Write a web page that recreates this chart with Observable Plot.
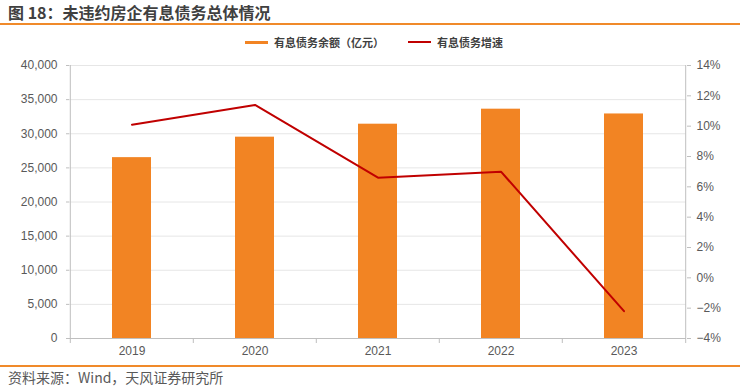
<!DOCTYPE html>
<html>
<head>
<meta charset="utf-8">
<script src="https://cdn.jsdelivr.net/npm/d3@7"></script>
<script src="https://cdn.jsdelivr.net/npm/@observablehq/plot@0.6"></script>
<style>
  html, body { margin: 0; padding: 0; background: #fff; }
  body { width: 740px; height: 389px; overflow: hidden; font-family: "Liberation Sans", "Noto Sans CJK SC", sans-serif; }
  #title { height: 23px; line-height: 23px; border-bottom: 2px solid #f08a2a; padding-left: 8px;
           font: bold 16px "Noto Sans CJK SC", sans-serif; color: #404040; }
  #legend { height: 28px; padding-top: 3px; display: flex; justify-content: center; align-items: center;
            padding-left: 8px; font: bold 11px "Noto Sans CJK SC", sans-serif; color: #404040; }
  .item { display: flex; align-items: center; margin: 0 12px; }
  .sw { width: 23px; height: 3px; margin-right: 6px; }
  #chart svg { display: block; }
  #caption { border-top: 2px solid #f08a2a; height: 20px; line-height: 20px; padding-left: 8px;
             font: 14px "Noto Sans CJK SC", sans-serif; color: #595959; }
</style>
</head>
<body>
<div id="title">图 18：未违约房企有息债务总体情况</div>
<div id="legend"></div>
<div id="chart"></div>
<div id="caption">资料来源：Wind，天风证券研究所</div>
<script>
const years = ["2019", "2020", "2021", "2022", "2023"];
const debt = [26500, 29500, 31400, 33600, 32900];          // 有息债务余额（亿元）
const growth = [10.1, 11.4, 6.6, 7.0, -2.2];               // 有息债务增速 (%)
const leftTicks = [0, 5000, 10000, 15000, 20000, 25000, 30000, 35000, 40000];
const rightTicks = [-4, -2, 0, 2, 4, 6, 8, 10, 12, 14];
const seriesNames = ["有息债务余额（亿元）", "有息债务增速"];
const colors = ["#f28423", "#c00000"];

const yMax = 40000, pMin = -4, pMax = 14;
const toY = p => (p - pMin) / (pMax - pMin) * yMax;
const fromY = v => v / yMax * (pMax - pMin) + pMin;

const W = 740, H = 309, mL = 69, mR = 54, mT = 9, mB = 27;
const step = (W - mL - mR) / years.length;
const plotH = H - mT - mB;
const tickLen = 5 / plotH * yMax;

const data = years.map((y, i) => ({year: y, debt: debt[i], growth: growth[i]}));

// legend
const legend = document.getElementById("legend");
seriesNames.forEach((name, i) => {
  const it = document.createElement("div");
  it.className = "item";
  const sw = document.createElement("div");
  sw.className = "sw";
  sw.style.background = colors[i];
  if (i === 1) sw.style.height = "2px";
  const tx = document.createElement("span");
  tx.textContent = name;
  it.appendChild(sw); it.appendChild(tx);
  legend.appendChild(it);
});

const axisColor = "#bfbfbf";
const chart = Plot.plot({
  width: W, height: H,
  marginLeft: mL, marginRight: mR, marginTop: mT, marginBottom: mB,
  style: {fontFamily: '"Liberation Sans", Arial, sans-serif', fontSize: "12px", color: "#595959", background: "#fff", overflow: "visible"},
  x: {type: "band", domain: years, paddingInner: 0.68, paddingOuter: 0.34, label: null},
  y: {domain: [0, yMax], label: null},
  marks: [
    Plot.gridY(leftTicks, {stroke: "#e6e6e6", strokeOpacity: 1}),
    Plot.barY(data, {x: "year", y: "debt", fill: colors[0]}),
    Plot.ruleY([0], {stroke: axisColor}),
    Plot.ruleX([years[0]], {x: d => d, dx: -step / 2, y1: 0, y2: yMax, stroke: axisColor}),
    Plot.ruleX([years[years.length - 1]], {x: d => d, dx: step / 2, y1: 0, y2: yMax, stroke: axisColor}),
    Plot.ruleX(years, {x: d => d, dx: -step / 2, y1: 0, y2: -tickLen, stroke: axisColor}),
    Plot.ruleX([years[years.length - 1]], {x: d => d, dx: step / 2, y1: 0, y2: -tickLen, stroke: axisColor}),
    Plot.lineY(data, {x: "year", y: d => toY(d.growth), stroke: colors[1], strokeWidth: 2}),
    Plot.axisY(leftTicks, {anchor: "left", tickSize: 3, tickPadding: 9, stroke: axisColor, fill: "#595959",
      tickFormat: d3.format(","), label: null}),
    Plot.axisY(rightTicks.map(toY), {anchor: "right", tickSize: 4, tickPadding: 6, stroke: axisColor, fill: "#595959",
      tickFormat: v => String(Math.round(fromY(v))).replace("-", "\u2212") + "%", label: null}),
    Plot.axisX({anchor: "bottom", tickSize: 0, tickPadding: 8, fill: "#595959", label: null})
  ]
});
document.getElementById("chart").appendChild(chart);
</script>
</body>
</html>
